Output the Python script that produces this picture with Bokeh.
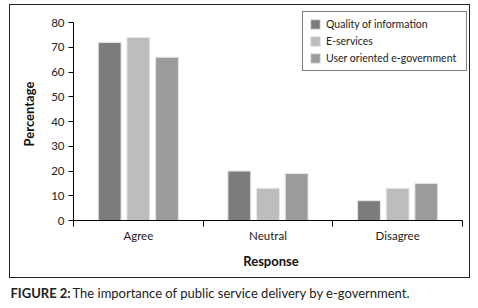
from bokeh.plotting import figure
from bokeh.layouts import column, row
from bokeh.models import Range1d, FixedTicker, Legend, LegendItem, Label
from bokeh.embed import file_html
from bokeh.resources import INLINE

categories = ["Agree", "Neutral", "Disagree"]
series_names = ["Quality of information", "E-services", "User oriented e-government"]
quality = [72, 20, 8]
eservices = [74, 13, 13]
user_oriented = [66, 19, 15]
y_ticks = [0, 10, 20, 30, 40, 50, 60, 70, 80]
colors = ["#7c7c7e", "#bdbdbf", "#9b9b9e"]
caption_bold = "FIGURE 2:"
caption_text = "The importance of public service delivery by e-government."

FONT = "Lato"

PX_PER_UNIT_Y = 2.45
PX_PER_CAT = 129.0
frame_h = 211
frame_w = 393
p = figure(width=461, height=274, output_backend="svg", toolbar_location=None,
           x_range=Range1d(0, frame_w / PX_PER_CAT), y_range=Range1d(0, frame_h / PX_PER_UNIT_Y),
           min_border_left=63, min_border_right=3, min_border_top=2, min_border_bottom=59,
           margin=(4, 0, 0, 9),
           styles={"border": "1px solid #222222"})
p.outline_line_color = None
p.grid.grid_line_color = None

offsets = [-0.221, 0.0, 0.221]
width = 0.176
renderers = []
for vals, col, off in zip([quality, eservices, user_oriented], colors, offsets):
    xs = [i + 0.5 + off for i in range(len(categories))]
    r = p.vbar(x=xs, top=vals, width=width, fill_color=col, line_color="#e6e6e6", line_width=1)
    renderers.append(r)

p.xaxis.bounds = (0, 3)
p.xaxis.ticker = FixedTicker(ticks=[0.5, 1.5, 2.5], minor_ticks=[0, 1, 2, 3])
p.xaxis.major_label_overrides = {0.5: categories[0], 1.5: categories[1], 2.5: categories[2]}
p.xaxis.major_tick_out = 0
p.xaxis.major_tick_in = 0
p.xaxis.minor_tick_out = 6
p.xaxis.minor_tick_in = 0
p.xaxis.minor_tick_line_color = "black"
p.xaxis.major_label_standoff = 2
p.xaxis.axis_label = "Response"
p.xaxis.axis_label_standoff = 8

p.yaxis.bounds = (0, 80)
p.yaxis.ticker = FixedTicker(ticks=y_ticks)
p.yaxis.major_tick_out = 5
p.yaxis.major_tick_in = 0
p.yaxis.minor_tick_line_color = None
p.yaxis.major_label_standoff = 4
p.yaxis.axis_label = "Percentage"
p.yaxis.axis_label_standoff = 11

for ax in (p.xaxis, p.yaxis):
    ax.axis_line_color = "black"
    ax.major_tick_line_color = "black"
    ax.major_label_text_font = FONT
    ax.major_label_text_font_size = "11.5px"
    ax.major_label_text_color = "#222222"
    ax.axis_label_text_font = FONT
    ax.axis_label_text_font_size = "13px"
    ax.axis_label_text_font_style = "bold"
    ax.axis_label_text_color = "#111111"

legend = Legend(items=[LegendItem(label=n, renderers=[r]) for n, r in zip(series_names, renderers)],
                location=(229, 149))
legend.label_text_font = FONT
legend.label_text_font_size = "10.5px"
legend.label_text_color = "#222222"
legend.glyph_width = 12
legend.glyph_height = 12
legend.label_height = 12
legend.label_width = 134
legend.label_standoff = 5
legend.spacing = 5
legend.padding = 6
legend.margin = 0
legend.border_line_color = "black"
legend.border_line_width = 1
legend.background_fill_alpha = 1
p.add_layout(legend, "center")

cap = figure(width=478, height=30, output_backend="svg", toolbar_location=None,
             x_range=Range1d(0, 478), y_range=Range1d(0, 30),
             x_axis_location=None, y_axis_location=None,
             min_border=0, margin=(0, 0, 0, 0))
cap.grid.grid_line_color = None
cap.outline_line_color = None
cap.add_layout(Label(x=10, y=16, text=caption_bold, text_font=FONT, text_font_size="13px",
                     text_font_style="bold", text_color="#222222", text_baseline="middle"))
cap.add_layout(Label(x=72, y=16, text=caption_text, text_font=FONT, text_font_size="13px",
                     text_color="#222222", text_baseline="middle"))

layout = column(p, row(cap, spacing=0), spacing=0)
open("out.html", "w").write(file_html(layout, INLINE))
